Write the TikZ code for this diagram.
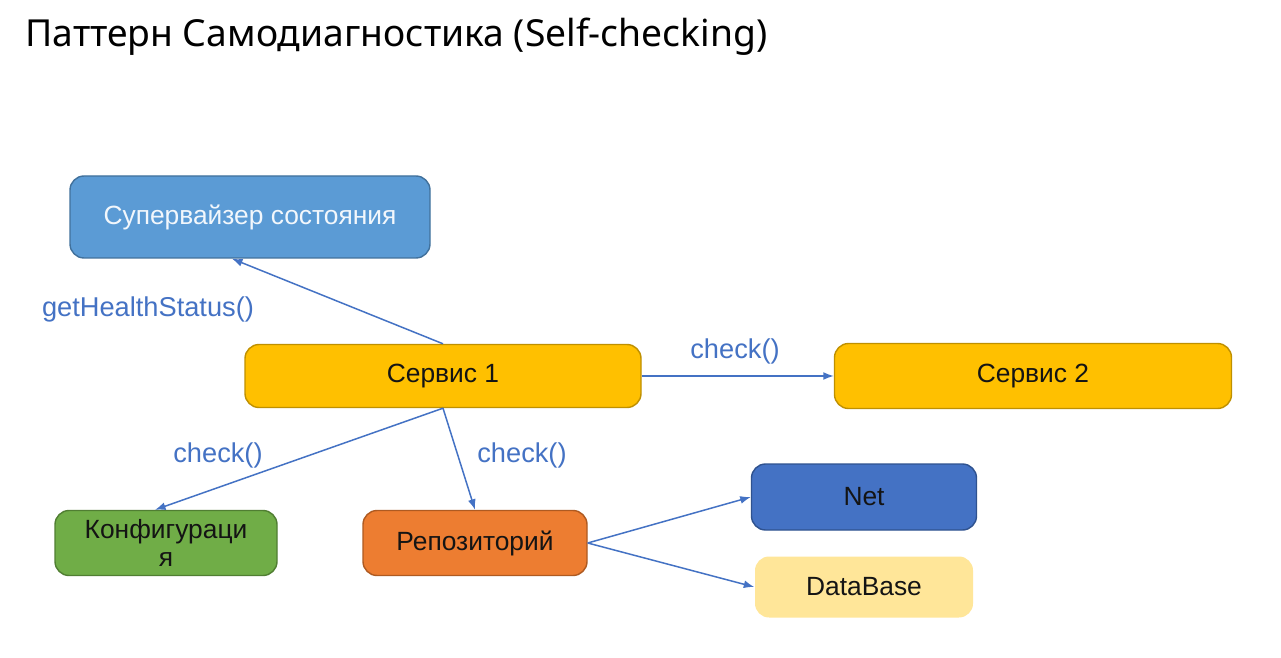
\documentclass[tikz,border=0pt]{standalone}
\usepackage{fontspec}
\setmainfont{Liberation Sans}
\newfontfamily\titlefont{Noto Sans}
\usetikzlibrary{arrows.meta,positioning,calc}
\definecolor{supFill}{RGB}{91,155,213}
\definecolor{supRule}{RGB}{65,113,156}
\definecolor{svcFill}{RGB}{255,192,0}
\definecolor{svcRule}{RGB}{191,144,0}
\definecolor{cfgFill}{RGB}{112,173,71}
\definecolor{cfgRule}{RGB}{80,126,50}
\definecolor{repoFill}{RGB}{237,125,49}
\definecolor{repoRule}{RGB}{174,90,33}
\definecolor{netFill}{RGB}{68,114,196}
\definecolor{netRule}{RGB}{47,82,143}
\definecolor{dbFill}{RGB}{255,230,153}
\definecolor{linkBlue}{RGB}{68,114,196}
\definecolor{inkBlack}{RGB}{20,20,20}
\tikzset{
  box/.style={rounded corners=8, line width=0.8pt, align=center, font=\fontsize{15pt}{18pt}\selectfont, text=inkBlack},
  link/.style={draw=linkBlue, line width=0.85pt, -{Latex[length=6pt,width=4.5pt]}},
  linklabel/.style={text=linkBlue, font=\fontsize{15.5pt}{18pt}\selectfont}
}

\begin{document}
\begin{tikzpicture}[x=0.02cm,y=-0.02cm]
  \useasboundingbox[fill=white] (0,0) rectangle (1281,658);

  % title
  \node[anchor=base west, inner sep=0pt, font=\titlefont\fontsize{21.2pt}{25pt}\selectfont] (title) at (25,47) {Паттерн Самодиагностика (Self-checking)};

  % boxes
  \node[box, fill=supFill, draw=supRule, text=white!92!supFill, minimum width=360*0.02cm, minimum height=82*0.02cm] (sup) at (250,217) {Супервайзер состояния};
  \node[box, fill=svcFill, draw=svcRule, minimum width=396*0.02cm, minimum height=63*0.02cm] (svc1) at (443,376) {Сервис 1};
  \node[box, fill=svcFill, draw=svcRule, minimum width=397*0.02cm, minimum height=65*0.02cm] (svc2) at (1033,376) {Сервис 2};
  \node[box, fill=cfgFill, draw=cfgRule, minimum width=222*0.02cm, minimum height=65*0.02cm, text width=200*0.02cm] (cfg) at (166,543) {Конфигураци\\[-2pt]я};
  \node[box, fill=repoFill, draw=repoRule, minimum width=224*0.02cm, minimum height=65*0.02cm] (repo) at (475,543) {Репозиторий};
  \node[box, fill=netFill, draw=netRule, minimum width=225*0.02cm, minimum height=66*0.02cm] (net) at (864,497) {Net};
  \node[box, fill=dbFill, draw=none, minimum width=218*0.02cm, minimum height=61*0.02cm] (db) at (864,587) {DataBase};

  % connectors
  \draw[link] (svc1.north) -- ($(sup.south west)!0.45!(sup.south east)$);
  \draw[link] (svc1.east) -- (svc2.west);
  \draw[link] (svc1.south) -- ($(cfg.north)+(-11,0)$);
  \draw[link] (svc1.south) -- (repo.north);
  \draw[link] (repo.east) -- (net.west);
  \draw[link] (repo.east) -- (db.west);

  % labels
  \node[linklabel] (lblHealth) at (148,309) {getHealthStatus()};
  \node[linklabel] (lblSvc2) at (735,351) {check()};
  \node[linklabel] (lblCfg) at (218,455) {check()};
  \node[linklabel] (lblRepo) at (522,455) {check()};
\end{tikzpicture}
\end{document}
